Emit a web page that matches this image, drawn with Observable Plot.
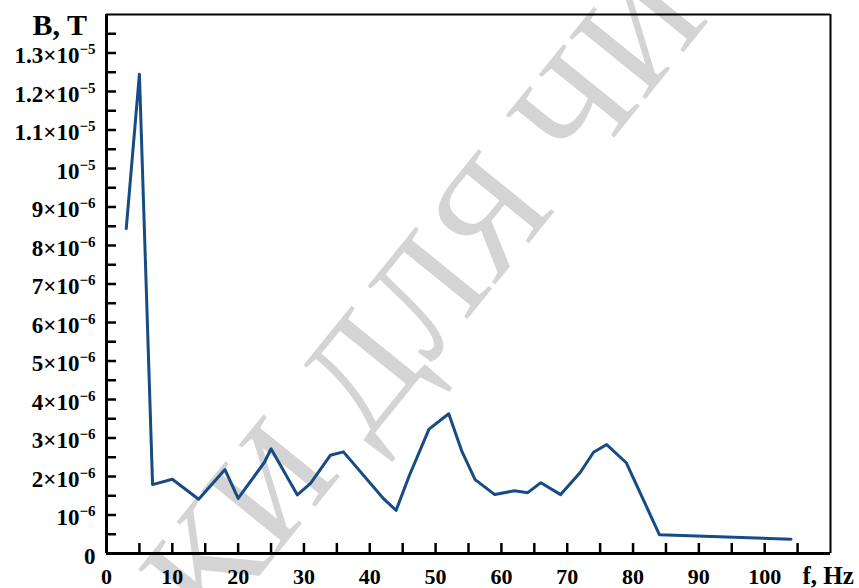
<!DOCTYPE html>
<html><head><meta charset="utf-8">
<script src="https://cdn.jsdelivr.net/npm/d3@7"></script>
<script src="https://cdn.jsdelivr.net/npm/@observablehq/plot@0.6"></script>
<style>body{margin:0;background:#fff}</style>
</head><body><div id="chart"></div>
<script>
// ---- data ----
const freq  = [3, 5, 7, 10, 14, 18, 20, 24, 25, 29, 31, 34, 36, 42, 44, 46, 49, 52, 54, 56, 59, 62, 64, 66, 69, 72, 74, 76, 79, 84, 104];
const field = [8.44e-6, 12.45e-6, 1.79e-6, 1.93e-6, 1.41e-6, 2.18e-6, 1.43e-6, 2.37e-6, 2.72e-6, 1.52e-6, 1.82e-6, 2.55e-6, 2.64e-6, 1.44e-6, 1.12e-6, 2.02e-6, 3.23e-6, 3.63e-6, 2.65e-6, 1.92e-6, 1.53e-6, 1.63e-6, 1.58e-6, 1.84e-6, 1.53e-6, 2.11e-6, 2.63e-6, 2.83e-6, 2.35e-6, 0.49e-6, 0.37e-6];

const xTickValues = [0, 10, 20, 30, 40, 50, 60, 70, 80, 90, 100];
const xTickLabels = ["0", "10", "20", "30", "40", "50", "60", "70", "80", "90", "100"];
const xTickMarks  = [5, 10, 15, 20, 25, 30, 35, 40, 45, 50, 55, 60, 65, 70, 75, 80, 85, 90, 95, 100, 105];

const yTickValues = [0, 1e-6, 2e-6, 3e-6, 4e-6, 5e-6, 6e-6, 7e-6, 8e-6, 9e-6, 1e-5, 1.1e-5, 1.2e-5, 1.3e-5];
const yTickBase   = ["0", "10", "2×10", "3×10", "4×10", "5×10", "6×10", "7×10", "8×10", "9×10", "10", "1.1×10", "1.2×10", "1.3×10"];
const yTickExp    = ["", "−6", "−6", "−6", "−6", "−6", "−6", "−6", "−6", "−6", "−5", "−5", "−5", "−5"];
const yTickMarks  = [0.5e-6, 1e-6, 1.5e-6, 2e-6, 2.5e-6, 3e-6, 3.5e-6, 4e-6, 4.5e-6, 5e-6, 5.5e-6, 6e-6, 6.5e-6, 7e-6, 7.5e-6, 8e-6, 8.5e-6, 9e-6, 9.5e-6, 1e-5, 1.05e-5, 1.1e-5, 1.15e-5, 1.2e-5, 1.25e-5, 1.3e-5, 1.35e-5];

const xDomain = [0, 110];
const yDomain = [0, 1.4e-5];
const xTitle = "f, Hz";
const yTitle = "B, T";
const watermark = "ТІЛЬКИ ДЛЯ ЧИТАННЯ";

// ---- build ----
const data = freq.map((f, i) => ({f, B: field[i]}));
const yLab = yTickValues.map((v, i) => ({v, base: yTickBase[i], exp: yTickExp[i]}));
const xLab = xTickValues.map((v, i) => ({v, label: xTickLabels[i]}));

const W = 859, H = 588, mL = 106, mT = 14, mR = 29, mB = 35;
const fw = W - mL - mR, fh = H - mT - mB;
const serif = "'Liberation Serif','Times New Roman',serif";
const tickLen = 10;

const chart = Plot.plot({
  width: W, height: H,
  marginLeft: mL, marginTop: mT, marginRight: mR, marginBottom: mB,
  x: {domain: xDomain, axis: null},
  y: {domain: yDomain, axis: null},
  style: {background: "#fff", overflow: "visible", fontFamily: serif},
  marks: [
    Plot.text([watermark], {frameAnchor: "top-left", dx: 374, dy: 212, rotate: -51,
      fontSize: 150, fill: "#d4d4d4", fontFamily: serif, textAnchor: "middle", lineAnchor: "middle"}),
    Plot.tickY(yTickMarks, {y: d => d, insetRight: fw - tickLen, stroke: "#000", strokeWidth: 2.5}),
    Plot.tickX(xTickMarks, {x: d => d, insetTop: fh - tickLen, stroke: "#000", strokeWidth: 2.5}),
    Plot.ruleX([xDomain[1]], {stroke: "#000", strokeWidth: 2}),
    Plot.ruleY([yDomain[1]], {stroke: "#000", strokeWidth: 2}),
    Plot.ruleX([xDomain[0]], {stroke: "#000", strokeWidth: 3}),
    Plot.ruleY([yDomain[0]], {stroke: "#000", strokeWidth: 3}),
    Plot.line(data, {x: "f", y: "B", stroke: "#164b84", strokeWidth: 3}),
    Plot.text(yLab, {y: "v", text: "base", frameAnchor: "left", textAnchor: "end", lineAnchor: "middle",
      dx: -11, dy: 3, fontSize: 23, fontWeight: "bold", fill: "#000"}),
    Plot.text(xLab, {x: "v", text: "label", frameAnchor: "bottom", lineAnchor: "middle", dy: 23,
      fontSize: 22, fontWeight: "bold", fill: "#000"}),
    Plot.text([yTitle], {frameAnchor: "top-left", textAnchor: "start", lineAnchor: "middle", dx: -74, dy: 11,
      fontSize: 30, fontWeight: "bold", fill: "#000"}),
    Plot.text([xTitle], {frameAnchor: "bottom-right", textAnchor: "start", lineAnchor: "middle", dx: -28, dy: 22,
      fontSize: 25, fontWeight: "bold", fill: "#000"})
  ]
});

// superscript exponents on y tick labels (second text mark)
const textGroups = chart.querySelectorAll('g[aria-label="text"]');
const g = textGroups[1];
if (g) {
  g.querySelectorAll("text").forEach((t, i) => {
    const e = yLab[i] && yLab[i].exp;
    if (e) {
      const ts = document.createElementNS("http://www.w3.org/2000/svg", "tspan");
      ts.setAttribute("dy", "-9");
      ts.setAttribute("font-size", "15");
      ts.textContent = e;
      t.appendChild(ts);
    }
  });
}
document.getElementById("chart").appendChild(chart);
</script>
</body></html>
